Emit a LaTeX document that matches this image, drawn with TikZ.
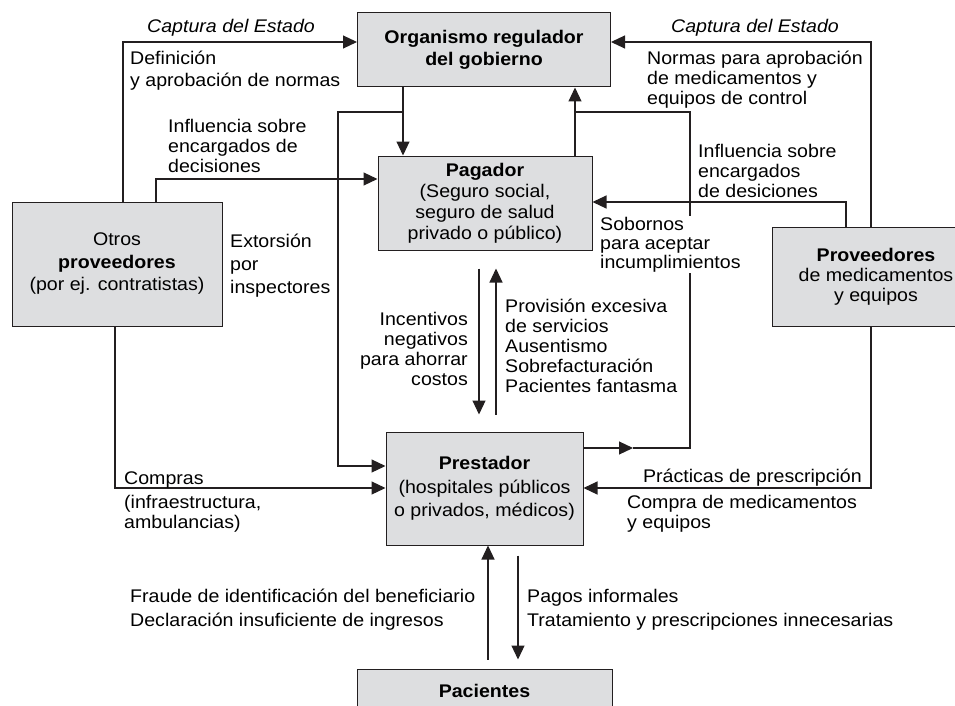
\documentclass[tikz,border=0pt]{standalone}
\usepackage{fontspec}
\setmainfont{Liberation Sans}[FakeStretch=1.07]
\usepackage{xcolor}
\definecolor{grisCaja}{RGB}{221,222,224}
\definecolor{negroLinea}{RGB}{35,31,32}
\usepackage{tikz}
\usetikzlibrary{arrows.meta, positioning, calc}

\begin{document}
\begin{tikzpicture}[x=1pt, y=-1pt,
  caja/.style={draw=negroLinea, line width=1pt, fill=grisCaja, align=center, inner sep=0pt, font=\fontsize{18.3}{21}\selectfont},
  flecha/.style={draw=negroLinea, line width=1.1pt, -{Triangle[length=14pt,width=13pt]}},
  linea/.style={draw=negroLinea, line width=1.1pt},
  etiq/.style={inner sep=0pt, align=left, font=\fontsize{18.3}{20}\selectfont}]
  \useasboundingbox (0,0) rectangle (955,706);
  \clip (0,0) rectangle (955,706);

  % Cajas
  \node[caja, minimum width=253pt, minimum height=74pt] (org) at (484,50) {\textbf{Organismo regulador}\\[1pt]\textbf{del gobierno}};
  \node[caja, minimum width=214pt, minimum height=94pt] (pag) at (485,203) {\textbf{Pagador}\\(Seguro social,\\seguro de salud\\privado o público)};
  \node[caja, minimum width=210pt, minimum height=124pt] (otros) at (117,264) {Otros\\[1.5pt]\textbf{proveedores}\\[1.5pt](por ej. contratistas)};
  \node[caja, minimum width=208pt, minimum height=99pt] (prov) at (876,276.5) {\textbf{Proveedores}\\[-1pt]de medicamentos\\[-1pt]y equipos};
  \node[caja, minimum width=197pt, minimum height=113pt] (pres) at (484.5,488.5) {\textbf{Prestador}\\[2.5pt](hospitales públicos\\[2.5pt]o privados, médicos)};
  \node[caja, minimum width=255pt, minimum height=44pt] (pac) at (484.5,691) {\textbf{Pacientes}};

  % Puntos de paso
  \coordinate (jl) at (403,112);
  \coordinate (kl) at (338,466);
  \coordinate (jr) at (575,112);
  \coordinate (kr) at (690,448);
  \coordinate (mr) at (633,448);
  \coordinate (cl) at (123,42);
  \coordinate (il) at (156,179);
  \coordinate (ol) at (115,488);
  \coordinate (cr) at (871,42);
  \coordinate (ir) at (846,202);
  \coordinate (pr) at (871,488);

  % Flechas del organismo y el pagador
  \draw[flecha] (org.south -| jl) -- (pag.north -| jl);
  \draw[flecha] (jl) -| (kl) -- (kl -| pres.west);
  \draw[flecha] (pag.north -| jr) -- (org.south -| jr);
  \draw[flecha] (pres.east |- kr) -- (mr);
  \draw[linea] (mr) -- (kr) |- (jr);

  % Otros proveedores
  \draw[flecha] (otros.north -| cl) -- (cl) -- (cl -| org.west);
  \draw[flecha] (otros.north -| il) -- (il) -- (il -| pag.west);
  \draw[flecha] (otros.south -| ol) -- (ol) -- (ol -| pres.west);

  % Proveedores de medicamentos
  \draw[flecha] (prov.north -| cr) -- (cr) -- (cr -| org.east);
  \draw[flecha] (prov.north -| ir) -- (ir) -- (ir -| pag.east);
  \draw[flecha] (prov.south -| pr) -- (pr) -- (pr -| pres.east);

  % Pagador / prestador / pacientes
  \draw[flecha] ([xshift=-6pt,yshift=-18pt]pag.south) -- ([xshift=-5.5pt,yshift=17pt]pres.north);
  \draw[flecha] ([xshift=11.5pt,yshift=17pt]pres.north) -- ([xshift=11pt,yshift=-18pt]pag.south);
  \draw[flecha] ([xshift=3.5pt,yshift=9pt]pac.north) -- ([xshift=3.5pt]pres.south);
  \draw[flecha] ([xshift=33.5pt,yshift=-10pt]pres.south) -- ([xshift=33.5pt,yshift=9pt]pac.north);

  % Etiquetas (base = ultima linea)
  \node[etiq, font=\fontsize{18.3}{20}\selectfont\itshape, anchor=base] (capI) at (231,33) {Captura del Estado};
  \node[etiq, font=\fontsize{18.3}{20}\selectfont\itshape, anchor=base] (capD) at (755,33) {Captura del Estado};
  \node[etiq, anchor=base west, font=\fontsize{18.3}{22}\selectfont] (defn) at (130,87) {Definición\\y aprobación de normas};
  \node[etiq, anchor=base west] (inflI) at (168,172) {Influencia sobre\\encargados de\\decisiones};
  \node[etiq, anchor=base west, font=\fontsize{18.3}{23}\selectfont] (extor) at (230,293) {Extorsión\\por\\inspectores};
  \node[etiq, anchor=base west] (normas) at (647,105) {Normas para aprobación\\de medicamentos y\\equipos de control};
  \node[etiq, anchor=base west] (inflD) at (698,197) {Influencia sobre\\encargados\\de desiciones};
  \node[etiq, anchor=base west, fill=white, inner sep=1pt, font=\fontsize{18.3}{19}\selectfont] (sobor) at (599,268) {Sobornos\\para aceptar\\incumplimientos};
  \node[etiq, anchor=base east, align=right] (incent) at (468,385) {Incentivos\\negativos\\para ahorrar\\costos};
  \node[etiq, anchor=base west] (provis) at (505,392) {Provisión excesiva\\de servicios\\Ausentismo\\Sobrefacturación\\Pacientes fantasma};
  \node[etiq, anchor=base west] (compras) at (124,528) {Compras\\[4pt](infraestructura,\\ambulancias)};
  \node[etiq, anchor=base east] (practi) at (862,482) {Prácticas de prescripción};
  \node[etiq, anchor=base west] (compraM) at (627,528) {Compra de medicamentos\\y equipos};
  \node[etiq, anchor=base west, font=\fontsize{18.3}{24}\selectfont] (fraude) at (130,626) {Fraude de identificación del beneficiario\\Declaración insuficiente de ingresos};
  \node[etiq, anchor=base west, font=\fontsize{18.3}{24}\selectfont] (pagos) at (527,626) {Pagos informales\\Tratamiento y prescripciones innecesarias};
\end{tikzpicture}
\end{document}
